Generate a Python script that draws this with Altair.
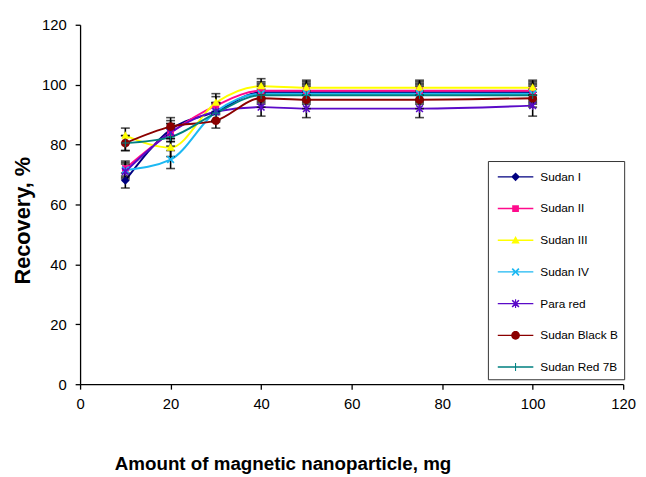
import math
import altair as alt
import pandas as pd

# ---------------- data ----------------
series = ["Sudan I", "Sudan II", "Sudan III", "Sudan IV", "Para red",
          "Sudan Black B", "Sudan Red 7B"]
amount = [10, 20, 30, 40, 50, 75, 100]

sudan_i = [68, 85, 91, 97.5, 97.5, 97.5, 97.5]
sudan_ii = [72, 84, 93, 98, 98, 98, 98]
sudan_iii = [83, 79, 94, 99.5, 99, 99, 99]
sudan_iv = [71.5, 75, 91, 97, 97, 97, 97]
para_red = [71, 84, 91, 92.5, 92, 92, 93]
sudan_black_b = [80.5, 86, 88, 95.5, 95, 95, 95.5]
sudan_red_7b = [80.5, 82.5, 90.5, 96.5, 96.5, 96.5, 96.5]

err_i = [2.5, 3, 3, 3, 3, 3, 3]
err_ii = [2.5, 3, 3, 3, 3, 3, 3]
err_iii = [2.5, 3, 3, 2.5, 2.5, 2.5, 2.5]
err_iv = [2.5, 3, 3, 3, 3, 3, 3]
err_para = [2.5, 3, 3, 3, 3, 3, 3.5]
err_black = [2.5, 3, 2.5, 3, 3, 3, 3]
err_7b = [2.5, 3, 3, 3, 3, 3, 3]

colors = ["#000080", "#FF0A8C", "#FFFF00", "#1CB8F2", "#5A0AC8",
          "#8B0000", "#008080"]

all_vals = [sudan_i, sudan_ii, sudan_iii, sudan_iv, para_red,
            sudan_black_b, sudan_red_7b]
all_errs = [err_i, err_ii, err_iii, err_iv, err_para, err_black, err_7b]

rows = []
for name, vals, errs in zip(series, all_vals, all_errs):
    for xv, yv, ev in zip(amount, vals, errs):
        rows.append({"series": name, "amount": xv, "recovery": yv,
                     "lo": yv - ev, "hi": yv + ev})
df = pd.DataFrame(rows)

# ---------------- marker shapes (styles) ----------------
def poly(pts, s=1.0):
    return "M" + "L".join(f"{x*s:.3f},{y*s:.3f}" for x, y in pts) + "Z"

a = 0.3
x_poly = [(0, -a), (1 - a, -1), (1, -1 + a), (a, 0), (1, 1 - a), (1 - a, 1),
          (0, a), (-1 + a, 1), (-1, 1 - a), (-a, 0), (-1, -1 + a), (-1 + a, -1)]
circle_poly = [(math.cos(2 * math.pi * k / 24), math.sin(2 * math.pi * k / 24))
               for k in range(24)]
markers = [
    [[(0, -1.1), (1.1, 0), (0, 1.1), (-1.1, 0)]],                       # diamond
    [[(-0.85, -0.85), (0.85, -0.85), (0.85, 0.85), (-0.85, 0.85)]],     # square
    [[(0, -1.1), (1.05, 0.8), (-1.05, 0.8)]],                           # triangle
    [x_poly],                                                            # x
    [x_poly, [(-0.15, -1.1), (0.15, -1.1), (0.15, 1.1), (-0.15, 1.1)]],  # asterisk
    [[(x * 1.1, y * 1.1) for x, y in circle_poly]],                      # circle
    [[(-1, -0.13), (1, -0.13), (1, 0.13), (-1, 0.13)],
     [(-0.13, -1), (0.13, -1), (0.13, 1), (-0.13, 1)]],                  # plus
]
plot_shapes = ["".join(poly(p) for p in m) for m in markers]
line_seg = [(-1.8, -0.07), (1.8, -0.07), (1.8, 0.07), (-1.8, 0.07)]
legend_shapes = [poly(line_seg) + "".join(poly(p, 0.4) for p in m) for m in markers]

font = "Liberation Sans"
y_title = "Recovery, %"

x_enc = alt.X("amount:Q", scale=alt.Scale(domain=[0, 120], nice=False),
              axis=alt.Axis(values=[0, 20, 40, 60, 80, 100, 120],
                            title="Amount of magnetic nanoparticle, mg",
                            titleX=205, titleY=80, titleBaseline="middle",
                            titleAnchor="start", titleAlign="center",
                            labelPadding=8))
y_axis = alt.Axis(values=[0, 20, 40, 60, 80, 100, 120],
                  title=y_title, titleFontSize=22,
                  titleX=-58, titleY=198, titleBaseline="middle",
                  titleAnchor="start", titleAlign="center",
                  labelPadding=9)
y_enc = alt.Y("recovery:Q", scale=alt.Scale(domain=[0, 120], nice=False),
              axis=y_axis, title=y_title)

color_plain = alt.Color("series:N", scale=alt.Scale(domain=series, range=colors),
                        legend=None)

base = alt.Chart(df)

lines = base.mark_line(interpolate="monotone", strokeWidth=2).encode(
    x=x_enc, y=y_enc, color=color_plain, detail="series:N")

errbars = base.mark_errorbar(ticks={"size": 9, "thickness": 1.6},
                             color="black", thickness=1.6).encode(
    x="amount:Q", y=alt.Y("lo:Q", title=y_title), y2="hi:Q", detail="series:N")

points = base.mark_point(filled=True, size=64, opacity=1, strokeWidth=0).encode(
    x="amount:Q", y=alt.Y("recovery:Q", title=y_title), color=color_plain,
    shape=alt.Shape("series:N", scale=alt.Scale(domain=series, range=plot_shapes),
                    legend=None))

legend_layer = base.transform_filter("false").mark_point(
    filled=True, opacity=1, strokeWidth=0).encode(
    x="amount:Q", y=alt.Y("recovery:Q", title=y_title),
    color=alt.Color("series:N", scale=alt.Scale(domain=series, range=colors),
                    legend=alt.Legend(title=None)),
    shape=alt.Shape("series:N", scale=alt.Scale(domain=series, range=legend_shapes),
                    legend=alt.Legend(title=None)))

chart = alt.layer(lines, errbars, points, legend_layer).resolve_scale(
    color="independent", shape="independent"
).properties(
    width=550, height=364,
    autosize=alt.AutoSizeParams(type="none"),
    padding={"left": 73, "top": 14, "right": 15, "bottom": 91},
).configure_view(stroke=None).configure_axis(
    grid=False, domainColor="black", domainWidth=1.3, tickColor="black",
    tickWidth=1.3, tickSize=5, labelFont=font, labelFontSize=15,
    labelColor="black", titleFont=font, titleFontSize=19, titleFontWeight="bold",
    titleColor="black", labelFlush=False
).configure_legend(
    orient="none", legendX=413, legendY=138, strokeColor="#333333",
    padding=6, symbolSize=400, symbolStrokeWidth=0, labelFont=font,
    labelFontSize=12, labelColor="black", rowPadding=16.1, symbolOffset=12,
    labelOffset=15, fillColor="white"
)

chart.save("out.html", embed_options={"renderer": "svg", "actions": False})
